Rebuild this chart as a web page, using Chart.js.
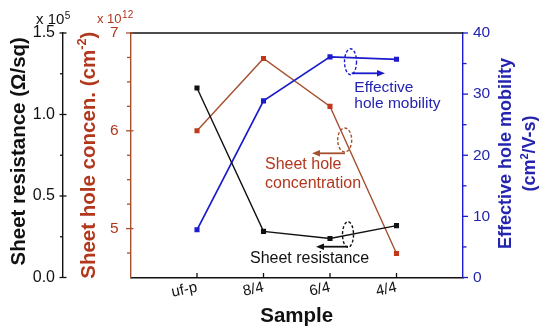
<!DOCTYPE html>
<html><head><meta charset="utf-8">
<script src="https://cdn.jsdelivr.net/npm/chart.js@4.4.1/dist/chart.umd.min.js"></script>
<style>html,body{margin:0;padding:0;background:#fff;overflow:hidden}</style>
</head><body>
<canvas id="c" width="550" height="336" style="width:550px;height:336px;display:block"></canvas>
<script>
// ---- data ----
const categories = ['uf-p', '8/4', '6/4', '4/4'];
const sheetResistance = [1.163, 0.283, 0.239, 0.318];   // x 10^5 ohm/sq
const holeConcentration = [6.00, 6.74, 6.25, 4.745];     // x 10^12 cm^-2
const holeMobility = [7.8, 28.9, 36.1, 35.7];            // cm^2/V-s
const resistanceTicks = [0, 0.5, 1.0, 1.5];
const resistanceMinor = [0.25, 0.75, 1.25];
const concTicks = [5, 6, 7];
const concMinor = [4.75, 5.25, 5.5, 5.75, 6.25, 6.5, 6.75];
const mobilityTicks = [0, 10, 20, 30, 40];
const mobilityMinor = [5, 15, 25, 35];

const FONT = '"Liberation Sans", Arial, sans-serif';
const C_BLACK = '#111111';
const C_BROWN_LINE = '#a5502e';
const C_BROWN_PT = '#c0391b';
const C_BROWN_TXT = '#b2371d';
const C_BLUE = '#1c1ccc';
const C_BLUE_TXT = '#2424b0';

const toXY = arr => arr.map((v, i) => ({x: i + 1, y: v}));

function line(ctx, x1, y1, x2, y2) { ctx.beginPath(); ctx.moveTo(x1, y1); ctx.lineTo(x2, y2); ctx.stroke(); }

// draw runs of text [{t, sup}] centered at (0,0) in current transform
function drawRuns(ctx, runs, size, bold, color) {
  const f = (s) => (bold ? 'bold ' : '') + s + 'px ' + FONT;
  let total = 0;
  const w = runs.map(r => { ctx.font = f(r.sup ? size * 0.62 : size); const m = ctx.measureText(r.t).width; total += m; return m; });
  let x = -total / 2;
  ctx.fillStyle = color; ctx.textAlign = 'left'; ctx.textBaseline = 'middle';
  runs.forEach((r, i) => {
    ctx.font = f(r.sup ? size * 0.62 : size);
    ctx.fillText(r.t, x, r.sup ? -size * 0.32 : 0);
    x += w[i];
  });
}

function ellipse(ctx, cx, cy, rx, ry, color) {
  ctx.save(); ctx.strokeStyle = color; ctx.lineWidth = 1.4; ctx.setLineDash([3, 2]);
  ctx.beginPath(); ctx.ellipse(cx, cy, rx, ry, 0, 0, Math.PI * 2); ctx.stroke(); ctx.restore();
}
function arrow(ctx, x1, y, x2, color) {
  ctx.save(); ctx.strokeStyle = color; ctx.fillStyle = color; ctx.lineWidth = 1.8;
  const dir = Math.sign(x2 - x1);
  line(ctx, x1, y, x2 - dir * 6, y);
  ctx.beginPath(); ctx.moveTo(x2, y); ctx.lineTo(x2 - dir * 8, y - 3.2); ctx.lineTo(x2 - dir * 8, y + 3.2); ctx.closePath(); ctx.fill();
  ctx.restore();
}
function expLabel(ctx, x, y, base, exp, size, color) {
  ctx.fillStyle = color; ctx.textAlign = 'left'; ctx.textBaseline = 'alphabetic';
  ctx.font = size + 'px ' + FONT; ctx.fillText(base, x, y);
  const w = ctx.measureText(base).width;
  ctx.font = '10px ' + FONT; ctx.fillText(exp, x + w + 0.5, y - 5);
}

const decor = {
  id: 'decor',
  beforeDatasetsDraw(chart) {
    const ctx = chart.ctx, a = chart.chartArea, s = chart.scales;
    ctx.save();
    // top frame
    ctx.strokeStyle = C_BLACK; ctx.lineWidth = 1.5;
    line(ctx, a.left, a.top, a.right, a.top);
    // x ticks (inward)
    ctx.lineWidth = 1.3;
    categories.forEach((c, i) => { const x = s.x.getPixelForValue(i + 1); line(ctx, x, a.bottom, x, a.bottom - 4.5); });
    // resistance axis ticks
    const xr = s.yR.right;
    resistanceTicks.forEach(v => { const y = s.yR.getPixelForValue(v); line(ctx, xr - 3.5, y, xr + 3.5, y); });
    resistanceMinor.forEach(v => { const y = s.yR.getPixelForValue(v); line(ctx, xr - 3, y, xr, y); });
    // concentration axis ticks
    ctx.strokeStyle = C_BROWN_LINE;
    const xc = s.yC.right;
    concTicks.forEach(v => { const y = s.yC.getPixelForValue(v); line(ctx, xc - 4.5, y, xc + 3, y); });
    concMinor.forEach(v => { const y = s.yC.getPixelForValue(v); line(ctx, xc - 3.5, y, xc, y); });
    // mobility axis ticks
    ctx.strokeStyle = C_BLUE;
    const xm = s.yM.left;
    mobilityTicks.forEach(v => { const y = s.yM.getPixelForValue(v); line(ctx, xm, y, xm + 5, y); });
    mobilityMinor.forEach(v => { const y = s.yM.getPixelForValue(v); line(ctx, xm, y, xm + 3.5, y); });
    ctx.restore();
  },
  afterDraw(chart) {
    const ctx = chart.ctx, a = chart.chartArea;
    const L = a.left, T = a.top;
    ctx.save();
    // axis titles
    ctx.save(); ctx.translate(19, (a.top + a.bottom) / 2 - 4); ctx.rotate(-Math.PI / 2);
    drawRuns(ctx, [{t: 'Sheet resistance (\u03A9/sq)'}], 20.5, true, C_BLACK); ctx.restore();
    ctx.save(); ctx.translate(89, (a.top + a.bottom) / 2); ctx.rotate(-Math.PI / 2);
    drawRuns(ctx, [{t: 'Sheet hole concen. (cm'}, {t: '-2', sup: true}, {t: ')'}], 20.5, true, C_BROWN_TXT); ctx.restore();
    ctx.save(); ctx.translate(506.5, 153.5); ctx.rotate(-Math.PI / 2);
    drawRuns(ctx, [{t: 'Effective hole mobility'}], 18, true, C_BLUE_TXT); ctx.restore();
    ctx.save(); ctx.translate(530.5, 153.5); ctx.rotate(-Math.PI / 2);
    drawRuns(ctx, [{t: '(cm'}, {t: '2', sup: true}, {t: '/V-s)'}], 18, true, C_BLUE_TXT); ctx.restore();
    // x title
    ctx.fillStyle = C_BLACK; ctx.font = 'bold 20.5px ' + FONT; ctx.textAlign = 'center'; ctx.textBaseline = 'alphabetic';
    ctx.fillText('Sample', (a.left + a.right) / 2, 322);
    // exponent labels
    expLabel(ctx, 36, 23.5, 'x 10', '5', 15, C_BLACK);
    expLabel(ctx, 97, 23, 'x 10', '12', 13, C_BROWN_TXT);
    // annotations
    ctx.textAlign = 'left'; ctx.textBaseline = 'alphabetic';
    ellipse(ctx, L + 220, T + 28.7, 6, 13, C_BLUE);
    arrow(ctx, L + 221.2, T + 40.3, L + 254.5, C_BLUE);
    ctx.fillStyle = C_BLUE_TXT; ctx.font = '15.5px ' + FONT;
    ctx.fillText('Effective', L + 223.8, T + 58.7);
    ctx.fillText('hole mobility', L + 223.8, T + 75.3);

    ellipse(ctx, L + 214.2, T + 107, 7, 12, C_BROWN_LINE);
    arrow(ctx, L + 214.5, T + 120.3, L + 181.5, C_BROWN_LINE);
    ctx.fillStyle = C_BROWN_TXT; ctx.font = '16px ' + FONT;
    ctx.fillText('Sheet hole', L + 134.5, T + 136.3);
    ctx.fillText('concentration', L + 134.5, T + 155.3);

    ellipse(ctx, L + 217.5, T + 201.5, 5.5, 12.8, C_BLACK);
    arrow(ctx, L + 217.5, T + 213.7, L + 185.5, C_BLACK);
    ctx.fillStyle = C_BLACK; ctx.font = '16px ' + FONT;
    ctx.fillText('Sheet resistance', L + 119.5, T + 230);
    ctx.restore();
  }
};

const noGrid = { display: false, drawTicks: false };

new Chart(document.getElementById('c'), {
  type: 'line',
  data: {
    datasets: [
      { label: 'Sheet resistance', data: toXY(sheetResistance), yAxisID: 'yR',
        borderColor: C_BLACK, backgroundColor: C_BLACK, borderWidth: 1.4,
        pointStyle: 'rect', pointRadius: 3.6, pointBorderWidth: 0, tension: 0 },
      { label: 'Effective hole mobility', data: toXY(holeMobility), yAxisID: 'yM',
        borderColor: C_BLUE, backgroundColor: C_BLUE, borderWidth: 1.7,
        pointStyle: 'rect', pointRadius: 3.6, pointBorderWidth: 0, tension: 0 },
      { label: 'Sheet hole concentration', data: toXY(holeConcentration), yAxisID: 'yC',
        borderColor: C_BROWN_LINE, backgroundColor: C_BROWN_PT, borderWidth: 1.4,
        pointStyle: 'rect', pointRadius: 3.6, pointBorderWidth: 0, tension: 0 }
    ]
  },
  options: {
    responsive: false, animation: false, devicePixelRatio: 1,
    layout: { padding: { top: 33, left: 0, right: 0, bottom: 0 } },
    plugins: { legend: { display: false }, tooltip: { enabled: false } },
    scales: {
      x: { type: 'linear', position: 'bottom', min: 0, max: 5,
        grid: noGrid, border: { display: true, color: C_BLACK, width: 1.5 },
        afterBuildTicks: sc => { sc.ticks = categories.map((c, i) => ({value: i + 1})); },
        ticks: { callback: v => categories[v - 1] || '', color: C_BLACK, font: { family: FONT, size: 15 },
          minRotation: 12, maxRotation: 12, autoSkip: false, padding: 1 },
        afterFit: sc => { sc.height = 58.5; } },
      yR: { type: 'linear', position: 'left', weight: 10, min: 0, max: 1.5,
        grid: noGrid, border: { display: true, color: C_BLACK, width: 1.4 },
        afterBuildTicks: sc => { sc.ticks = resistanceTicks.map(v => ({value: v})); },
        ticks: { callback: v => v.toFixed(1), color: C_BLACK, font: { family: FONT, size: 16 }, padding: 8 },
        afterFit: sc => { sc.width = 63; } },
      yC: { type: 'linear', position: 'left', weight: 0, min: 4.5, max: 7,
        grid: noGrid, border: { display: true, color: C_BROWN_LINE, width: 1.4 },
        afterBuildTicks: sc => { sc.ticks = concTicks.map(v => ({value: v})); },
        ticks: { callback: v => String(v), color: C_BROWN_TXT, font: { family: FONT, size: 15.5 }, padding: 12 },
        afterFit: sc => { sc.width = 67.5; } },
      yM: { type: 'linear', position: 'right', min: 0, max: 40,
        grid: noGrid, border: { display: true, color: C_BLUE, width: 1.4 },
        afterBuildTicks: sc => { sc.ticks = mobilityTicks.map(v => ({value: v})); },
        ticks: { callback: v => String(v), color: C_BLUE_TXT, font: { family: FONT, size: 15.5 }, padding: 10 },
        afterFit: sc => { sc.width = 87; } }
    }
  },
  plugins: [decor]
});
</script>
</body></html>
